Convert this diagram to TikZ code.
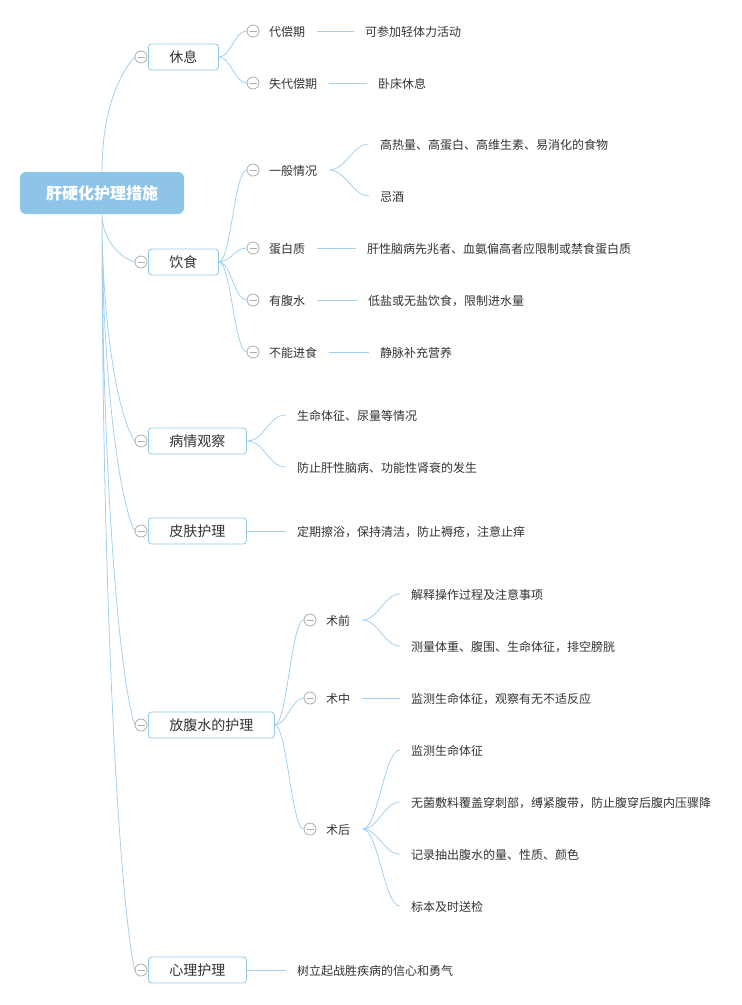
\documentclass[tikz,border=0pt]{standalone}
\usepackage{fontspec}
\usepackage{tikz}
\usetikzlibrary{calc,backgrounds}
\setmainfont{Noto Sans CJK SC}
\definecolor{lineblue}{HTML}{A3D0EF}
\definecolor{boxblue}{HTML}{95C8EA}
\definecolor{rootblue}{HTML}{8DC4E8}
\definecolor{foldgray}{HTML}{ADADAD}
\definecolor{textgray}{HTML}{333333}

\begin{document}
\begin{tikzpicture}[x=1pt,y=-1pt,
    root/.style={rounded corners=6pt,fill=rootblue,text=white,minimum width=164pt,
      minimum height=42pt,font=\fontsize{16}{18}\selectfont\bfseries},
    topic/.style={anchor=west,rounded corners=3pt,draw=boxblue,line width=0.8pt,fill=white,
      text=textgray,inner xsep=21pt,minimum height=26pt,font=\fontsize{14}{16}\selectfont},
    sub/.style={anchor=west,inner xsep=12pt,inner ysep=0pt,text=textgray,
      text height=10.5pt,text depth=0.5pt,font=\fontsize{12}{14}\selectfont},
    leaf/.style={sub,inner xsep=11pt},
    fold/.style={circle,draw=foldgray,fill=white,line width=0.8pt,minimum size=12pt,inner sep=0pt,
      path picture={\draw[foldgray,line width=0.8pt]
        ([xshift=2.5pt]path picture bounding box.west) -- ([xshift=-2.5pt]path picture bounding box.east);}},
    link/.style={draw=lineblue,line width=0.8pt}]
    \useasboundingbox (0,0) rectangle (742,1005);

    % centre
    \node[root] (R) at (102,193) {肝硬化护理措施};

    % main topics
    \node[topic] (B1) at (148,57) {休息};
    \node[topic] (B2) at (148,262) {饮食};
    \node[topic] (B3) at (148,441) {病情观察};
    \node[topic] (B4) at (148,531) {皮肤护理};
    \node[topic] (B5) at (148,725) {放腹水的护理};
    \node[topic] (B6) at (148,970) {心理护理};
    \foreach \i/\y in {1/57,2/262,3/441,4/531,5/725,6/970}
      \node[fold] (F\i) at (141,\y) {};

    % subtopics
    \node[fold] (C11) at (253,31) {};
    \node[fold] (C12) at (253,83) {};
    \node[fold] (C21) at (253,170) {};
    \node[fold] (C22) at (253,248) {};
    \node[fold] (C23) at (253,300) {};
    \node[fold] (C24) at (253,352) {};
    \node[fold] (C51) at (310,620) {};
    \node[fold] (C52) at (310,698) {};
    \node[fold] (C53) at (310,829) {};
    \node[sub] (T11) at (257,31) {代偿期};
    \node[sub] (T12) at (257,83) {失代偿期};
    \node[sub] (T21) at (257,170) {一般情况};
    \node[sub] (T22) at (257,248) {蛋白质};
    \node[sub] (T23) at (257,300) {有腹水};
    \node[sub] (T24) at (257,352) {不能进食};
    \node[sub] (T51) at (314,620) {术前};
    \node[sub] (T52) at (314,698) {术中};
    \node[sub] (T53) at (314,829) {术后};

    % details
    \node[leaf] (L11) at (354,31) {可参加轻体力活动};
    \node[leaf] (L12) at (367,83) {卧床休息};
    \node[leaf] (L211) at (369,144) {高热量、高蛋白、高维生素、易消化的食物};
    \node[leaf] (L212) at (369,196) {忌酒};
    \node[leaf] (L22) at (356,248) {肝性脑病先兆者、血氨偏高者应限制或禁食蛋白质};
    \node[leaf] (L23) at (357,300) {低盐或无盐饮食，限制进水量};
    \node[leaf] (L24) at (369,352) {静脉补充营养};
    \node[leaf] (L31) at (286,415) {生命体征、尿量等情况};
    \node[leaf] (L32) at (286,467) {防止肝性脑病、功能性肾衰的发生};
    \node[leaf] (L4) at (286,531) {定期擦浴，保持清洁，防止褥疮，注意止痒};
    \node[leaf] (L511) at (400,594) {解释操作过程及注意事项};
    \node[leaf] (L512) at (400,646) {测量体重、腹围、生命体征，排空膀胱};
    \node[leaf] (L52) at (400,698) {监测生命体征，观察有无不适反应};
    \node[leaf] (L531) at (400,750) {监测生命体征};
    \node[leaf] (L532) at (400,802) {无菌敷料覆盖穿刺部，缚紧腹带，防止腹穿后腹内压骤降};
    \node[leaf] (L533) at (400,854) {记录抽出腹水的量、性质、颜色};
    \node[leaf] (L534) at (400,906) {标本及时送检};
    \node[leaf] (L6) at (286,970) {树立起战胜疾病的信心和勇气};

    \begin{scope}[on background layer]
    \draw[link]
      (R.north) .. controls +(0,-60) and +(-16,18) .. (F1.west)
      (R.south) .. controls +(0,24) and +(-16,-5) .. (F2.west)
      (R.south) .. controls +(0,113) and +(-16,-23) .. (F3.west)
      (R.south) .. controls +(0,158) and +(-16,-32) .. (F4.west)
      (R.south) .. controls +(0,255) and +(-16,-51) .. (F5.west)
      (R.south) .. controls +(0,378) and +(-16,-76) .. (F6.west);
    \draw[link]
      (B1.east) .. controls +(12,0) and +(-12,0) .. (C11.west)
      (B1.east) .. controls +(12,0) and +(-12,0) .. (C12.west)
      (B2.east) .. controls +(12,0) and +(-12,0) .. (C21.west)
      (B2.east) .. controls +(12,0) and +(-12,0) .. (C22.west)
      (B2.east) .. controls +(12,0) and +(-12,0) .. (C23.west)
      (B2.east) .. controls +(12,0) and +(-12,0) .. (C24.west)
      (B5.east) .. controls +(12,0) and +(-12,0) .. (C51.west)
      (B5.east) .. controls +(12,0) and +(-12,0) .. (C52.west)
      (B5.east) .. controls +(12,0) and +(-12,0) .. (C53.west);
    \draw[link]
      (T21.east) .. controls +(16,0) and +(-16,0) .. (L211.west)
      (T21.east) .. controls +(16,0) and +(-16,0) .. (L212.west)
      (B3.east) .. controls +(18,0) and +(-18,0) .. (L31.west)
      (B3.east) .. controls +(18,0) and +(-18,0) .. (L32.west)
      (T51.east) .. controls +(16,0) and +(-16,0) .. (L511.west)
      (T51.east) .. controls +(16,0) and +(-16,0) .. (L512.west)
      (T53.east) .. controls +(16,0) and +(-16,0) .. (L531.west)
      (T53.east) .. controls +(16,0) and +(-16,0) .. (L532.west)
      (T53.east) .. controls +(16,0) and +(-16,0) .. (L533.west)
      (T53.east) .. controls +(16,0) and +(-16,0) .. (L534.west);
    \path[link]
      (T11) edge (L11)
      (T12) edge (L12)
      (T22) edge (L22)
      (T23) edge (L23)
      (T24) edge (L24)
      (B4) edge (L4)
      (T52) edge (L52)
      (B6) edge (L6);
    \end{scope}
  \end{tikzpicture}
\end{document}
